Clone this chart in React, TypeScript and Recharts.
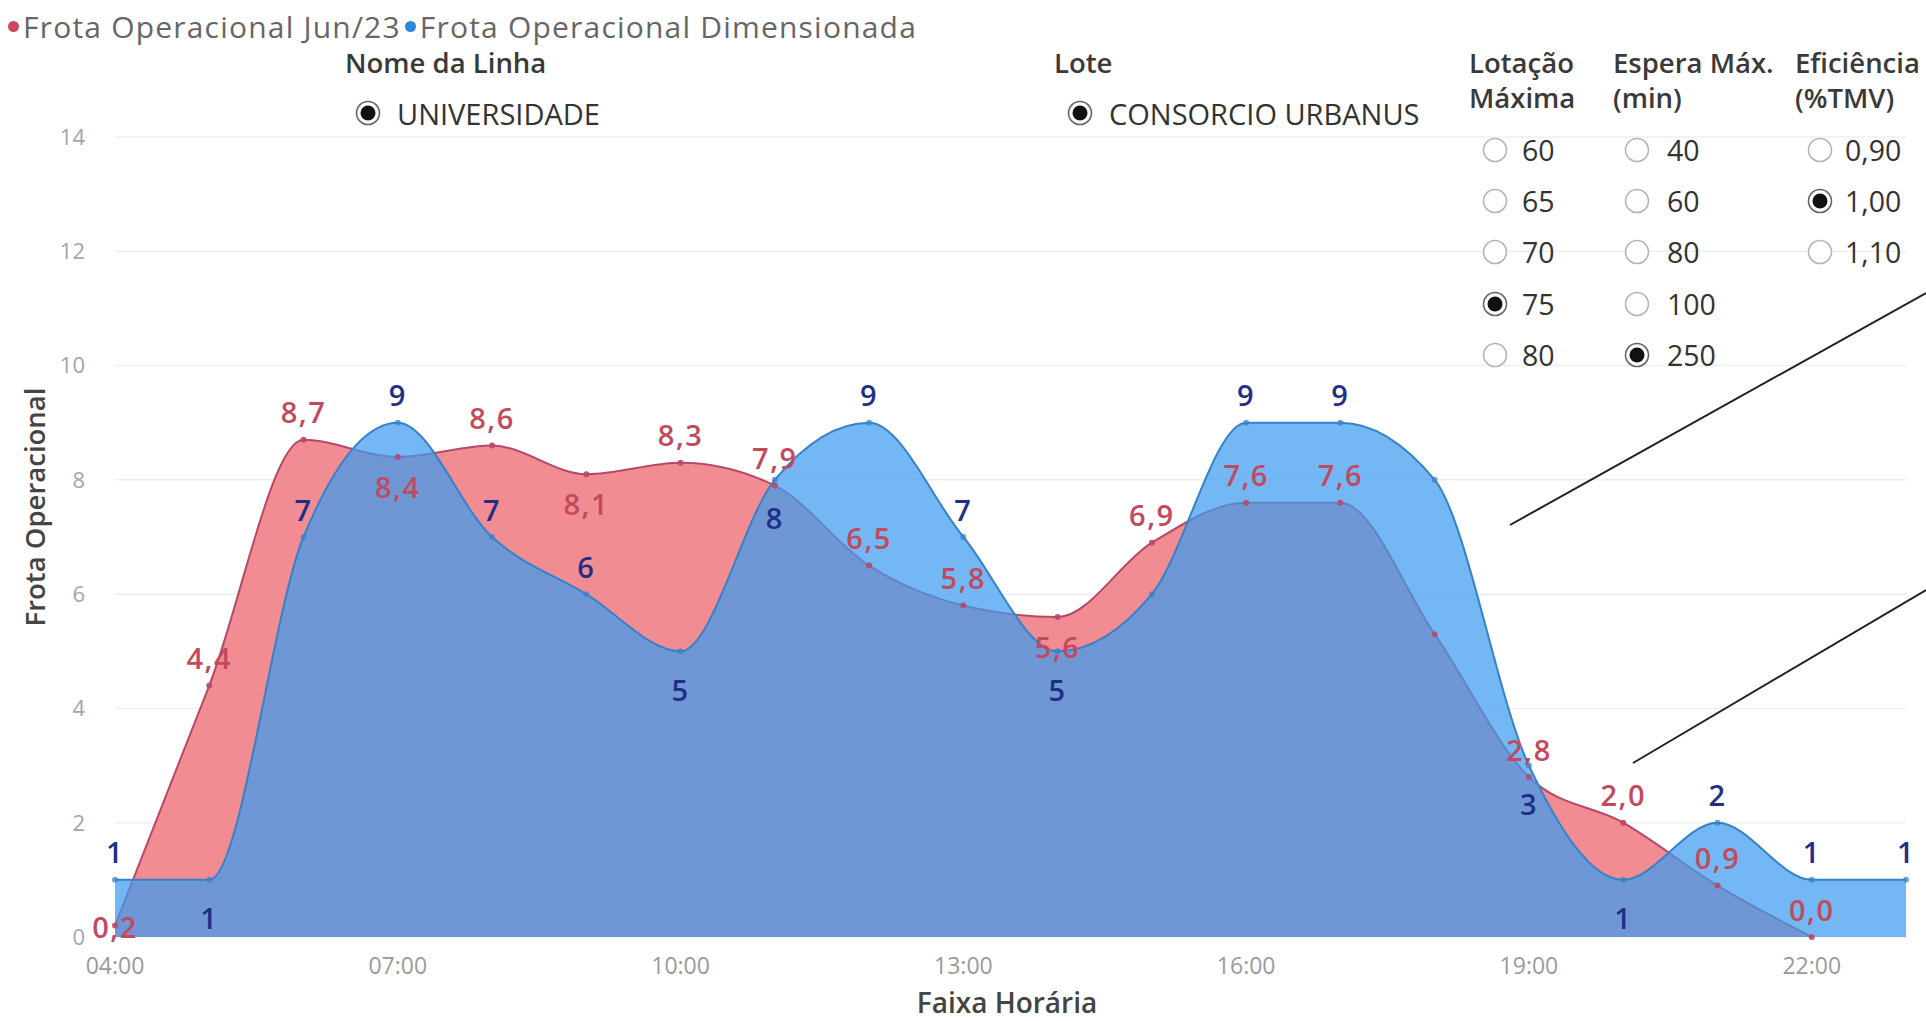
import { Area, CartesianGrid, ComposedChart, LabelList, Line, XAxis, YAxis } from "recharts";

const horas = [
    "04:00", "05:00", "06:00", "07:00", "08:00", "09:00", "10:00", "11:00", "12:00", "13:00",
    "14:00", "15:00", "16:00", "17:00", "18:00", "19:00", "20:00", "21:00", "22:00", "23:00",
];
const frotaJun23: (number | null)[] = [0.2, 4.4, 8.7, 8.4, 8.6, 8.1, 8.3, 7.9, 6.5, 5.8, 5.6, 6.9, 7.6, 7.6, 5.3, 2.8, 2.0, 0.9, 0.0, null];
const frotaDimensionada: (number | null)[] = [1, 1, 7, 9, 7, 6, 5, 8, 9, 7, 5, 6, 9, 9, 8, 3, 1, 2, 1, 1];
const ticksY = [0, 2, 4, 6, 8, 10, 12, 14];

// rotulos que o Power BI escondeu
const ocultosJun23 = ["18:00"];
const ocultosDim = ["15:00", "18:00"];

const lotacaoOpcoes = ["60", "65", "70", "75", "80"];
const esperaOpcoes = ["40", "60", "80", "100", "250"];
const eficienciaOpcoes = ["0,90", "1,00", "1,10"];

const LARGURA = 1926;
const ALTURA = 1021;
const MARGEM = { top: 137, right: 20, left: 0, bottom: 0 };
const ALTURA_EIXO_X = 84;
const BASE_Y = ALTURA - MARGEM.bottom - ALTURA_EIXO_X;

const FONTE = "'Open Sans', 'Noto Sans', sans-serif";
const COR_VERMELHO = "#C2495E";
const COR_AZUL_ROTULO = "#1F2F86";

const dados = horas.map((hora, i) => ({ hora, jun23: frotaJun23[i], dim: frotaDimensionada[i] }));

// vale local -> rotulo embaixo do ponto
const ehVale = (s: (number | null)[], i: number) => {
    const v = s[i];
    if (v == null) return false;
    const a = s[i - 1] ?? null;
    const p = s[i + 1] ?? null;
    const ladoA = a === null || v < a || (v === a && p !== null);
    const ladoP = p !== null && v < p;
    return ladoA && ladoP;
};

const abaixoJun23 = frotaJun23.map((_, i) => ehVale(frotaJun23, i));
const abaixoDim = frotaDimensionada.map((v, i) => {
    const r = frotaJun23[i];
    const colide = v != null && r != null && Math.abs(v - r) < 0.5 && !abaixoJun23[i];
    return ehVale(frotaDimensionada, i) || colide;
});

const fmt = (v: number, casas: number) => v.toFixed(casas).replace(".", ",");

const criaRotulo = (serie: (number | null)[], ocultos: string[], abaixo: boolean[], cor: string, casas: number, desceAbaixo: number) =>
    (props: any) => {
        const { x, y, index } = props;
        const v = serie[index];
        if (v == null || y == null || ocultos.includes(horas[index])) return null;
        let cy = abaixo[index] ? y + desceAbaixo : y - 28;
        cy = Math.min(cy, BASE_Y - 11);
        return (
            <text key={`r-${cor}-${index}`} x={x} y={cy} textAnchor="middle" dominantBaseline="central"
                fill={cor} fontSize={29} fontWeight={600} letterSpacing={1.5} fontFamily={FONTE}>
                {fmt(v, casas)}
            </text>
        );
    };

const Radio = ({ marcado }: { marcado: boolean }) => (
    <svg width={28} height={28} style={{ display: "block", flex: "none" }}>
        <circle cx={14} cy={14} r={11.5} fill="#fff" stroke={marcado ? "#666" : "#b5b5b5"} strokeWidth={1.6} />
        {marcado && <circle cx={14} cy={14} r={7.5} fill="#111" />}
    </svg>
);

const Opcao = ({ texto, marcado, cx, cy, gap, tam }: { texto: string; marcado: boolean; cx: number; cy: number; gap: number; tam: number }) => (
    <div style={{ position: "absolute", left: cx - 14, top: cy - 18, height: 36, display: "flex", alignItems: "center", gap, fontSize: tam, color: "#333", whiteSpace: "nowrap" }}>
        <Radio marcado={marcado} />
        <span>{texto}</span>
    </div>
);

const Titulo = ({ linhas, left }: { linhas: string[]; left: number }) => (
    <div style={{ position: "absolute", left, top: 45, fontSize: 27.5, lineHeight: "35px", fontWeight: 600, color: "#3a3a3a", whiteSpace: "nowrap" }}>
        {linhas.map((l) => <div key={l}>{l}</div>)}
    </div>
);

const Coluna = ({ opcoes, marcada, cx, gap }: { opcoes: string[]; marcada: string; cx: number; gap: number }) => (
    <>
        {opcoes.map((o, i) => (
            <Opcao key={o} texto={o} marcado={o === marcada} cx={cx} cy={150 + i * 51.2} gap={gap} tam={28.5} />
        ))}
    </>
);

const legenda = [
    { nome: "Frota Operacional Jun/23", cor: "#D0465E" },
    { nome: "Frota Operacional Dimensionada", cor: "#2B88D8" },
];

const App: React.FC = () => {
    return (
        <div style={{ position: "absolute", left: 0, top: 0, width: LARGURA, height: ALTURA, background: "#fff", fontFamily: FONTE, overflow: "hidden" }}>
            <ComposedChart width={LARGURA} height={ALTURA} data={dados} margin={MARGEM}>
                <CartesianGrid vertical={false} stroke="#efefef" strokeWidth={1.5} />
                <XAxis dataKey="hora" interval={2} height={ALTURA_EIXO_X} tickLine={false} axisLine={false} tickSize={0} tickMargin={21}
                    tick={{ fontSize: 23, fill: "#9a9a9a", fontFamily: FONTE }} />
                <YAxis domain={[0, 14]} ticks={ticksY} width={115} tickLine={false} axisLine={false} tickSize={0} tickMargin={30}
                    tick={{ fontSize: 22, fill: "#a5a5a5", fontFamily: FONTE }} />
                <Area type="monotone" dataKey="jun23" stroke="#B84868" strokeWidth={2} fill="#EE7F86" fillOpacity={0.9}
                    dot={{ r: 3, fill: "#B84868", stroke: "none" }} activeDot={false} isAnimationActive={false} />
                <Area type="monotone" dataKey="dim" stroke="#3682C8" strokeWidth={2} fill="#3D9BF0" fillOpacity={0.72}
                    dot={{ r: 3, fill: "#3682C8", stroke: "none" }} activeDot={false} isAnimationActive={false} />
                <Line type="monotone" dataKey="jun23" stroke="none" dot={false} activeDot={false} isAnimationActive={false} legendType="none">
                    <LabelList dataKey="jun23" content={criaRotulo(frotaJun23, ocultosJun23, abaixoJun23, COR_VERMELHO, 1, 29)} />
                </Line>
                <Line type="monotone" dataKey="dim" stroke="none" dot={false} activeDot={false} isAnimationActive={false} legendType="none">
                    <LabelList dataKey="dim" content={criaRotulo(frotaDimensionada, ocultosDim, abaixoDim, COR_AZUL_ROTULO, 0, 38)} />
                </Line>
            </ComposedChart>

            {/* legenda */}
            <div style={{ position: "absolute", left: 8, top: 6, display: "flex", alignItems: "center", fontSize: 30, letterSpacing: 1.2, color: "#666", whiteSpace: "nowrap" }}>
                {legenda.map((l, i) => (
                    <div key={l.nome} style={{ display: "flex", alignItems: "center", marginLeft: i ? 4 : 0 }}>
                        <span style={{ width: 11, height: 11, borderRadius: "50%", background: l.cor, marginRight: 4 }} />
                        <span>{l.nome}</span>
                    </div>
                ))}
            </div>

            {/* titulos dos eixos */}
            <div style={{ position: "absolute", left: 34, top: 507, transform: "translate(-50%, -50%) rotate(-90deg)", fontSize: 27.5, fontWeight: 600, color: "#444", whiteSpace: "nowrap" }}>
                Frota Operacional
            </div>
            <div style={{ position: "absolute", left: 1007, top: 1002, transform: "translate(-50%, -50%)", fontSize: 28, lineHeight: 1, fontWeight: 600, color: "#444", whiteSpace: "nowrap" }}>
                Faixa Horária
            </div>

            {/* segmentacoes */}
            <Titulo linhas={["Nome da Linha"]} left={345} />
            <Opcao texto="UNIVERSIDADE" marcado cx={368} cy={113} gap={15} tam={29} />
            <Titulo linhas={["Lote"]} left={1054} />
            <Opcao texto="CONSORCIO URBANUS" marcado cx={1080} cy={113} gap={15} tam={29} />

            <Titulo linhas={["Lotação", "Máxima"]} left={1469} />
            <Titulo linhas={["Espera Máx.", "(min)"]} left={1613} />
            <Titulo linhas={["Eficiência", "(%TMV)"]} left={1795} />
            <Coluna opcoes={lotacaoOpcoes} marcada="75" cx={1495} gap={13} />
            <Coluna opcoes={esperaOpcoes} marcada="250" cx={1637} gap={16} />
            <Coluna opcoes={eficienciaOpcoes} marcada="1,00" cx={1820} gap={11} />

            {/* linhas de anotacao */}
            <svg width={LARGURA} height={ALTURA} style={{ position: "absolute", left: 0, top: 0, pointerEvents: "none" }}>
                <line x1={1510} y1={525} x2={1926} y2={293} stroke="#222" strokeWidth={2} />
                <line x1={1633} y1={763} x2={1926} y2={590} stroke="#222" strokeWidth={2} />
            </svg>
        </div>
    );
};

export default App;
